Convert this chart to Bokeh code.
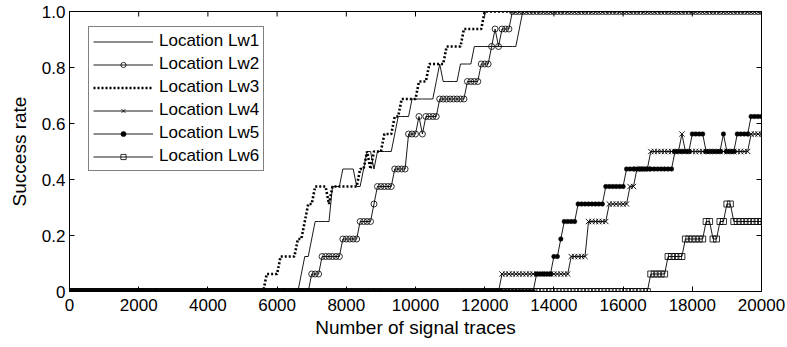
import numpy as np
from bokeh.plotting import figure
from bokeh.models import Range1d, FixedTicker, Legend, LegendItem
from bokeh.embed import file_html
from bokeh.resources import INLINE

# ---------------- data ----------------
N_EXPERIMENTS = 16
traces = list(range(0, 20001, 100))           # number of signal traces (x)

# (trace count where the value changes, successful experiments out of 16)
lw1_changes = [(0, 0), (6700, 1), (6800, 2), (7000, 3), (7100, 4), (7600, 6), (7900, 7),
               (8300, 6), (8500, 7), (8600, 8), (8800, 7), (8900, 8), (9400, 9), (9500, 10),
               (9900, 11), (10600, 12), (10700, 13), (10800, 12), (11300, 13), (11700, 14),
               (13000, 15), (13100, 16)]
lw2_changes = [(0, 0), (7000, 1), (7300, 2), (7900, 3), (8400, 4), (8800, 5), (8900, 6),
               (9400, 7), (9800, 9), (10100, 10), (10200, 9), (10300, 10), (10700, 11),
               (11500, 12), (11900, 13), (12200, 14), (12300, 15), (12400, 14), (12500, 15),
               (12800, 16)]
lw3_changes = [(0, 0), (5700, 1), (6100, 2), (6600, 3), (6800, 4), (6900, 5), (7100, 6),
               (7500, 5), (7600, 6), (8400, 7), (8600, 8), (8700, 7), (8800, 8), (9100, 9),
               (9400, 10), (9600, 11), (10100, 12), (10400, 13), (10900, 14), (11400, 15),
               (12000, 16)]
lw4_changes = [(0, 0), (12500, 1), (14500, 2), (15000, 4), (15600, 5), (16200, 6), (16400, 7),
               (16800, 8), (17700, 9), (17800, 8), (19700, 9)]
lw5_changes = [(0, 0), (13500, 1), (14000, 2), (14200, 3), (14300, 4), (14700, 5), (15500, 6),
               (16100, 7), (17500, 8), (18000, 9), (18400, 8), (18900, 9), (19000, 8),
               (19300, 9), (19700, 10)]
lw6_changes = [(0, 0), (16800, 1), (17300, 2), (17800, 3), (18400, 4), (18600, 3), (18800, 4),
               (19000, 5), (19200, 4)]

labels = ["Location Lw1", "Location Lw2", "Location Lw3",
          "Location Lw4", "Location Lw5", "Location Lw6"]
x_ticks = [0, 2000, 4000, 6000, 8000, 10000, 12000, 14000, 16000, 18000, 20000]
y_ticks = [0, 0.2, 0.4, 0.6, 0.8, 1.0]


def expand(changes):
    """Step series: each trace count takes the last value read at or before it."""
    out = []
    j = 0
    for t in traces:
        while j + 1 < len(changes) and changes[j + 1][0] <= t:
            j += 1
        out.append(changes[j][1] / N_EXPERIMENTS)
    return out


ys = [expand(c) for c in (lw1_changes, lw2_changes, lw3_changes,
                          lw4_changes, lw5_changes, lw6_changes)]

FONT = "Liberation Sans"
FS = "17px"
FS_LABEL = "19px"

p = figure(width=787, height=347, output_backend="svg", toolbar_location=None,
           x_range=Range1d(0, 20000), y_range=Range1d(0, 1),
           min_border_left=69, min_border_right=26, min_border_top=11, min_border_bottom=56)
p.xgrid.visible = False
p.ygrid.visible = False
p.outline_line_color = "black"
p.outline_line_width = 1
p.background_fill_color = "white"
p.border_fill_color = "white"

xax = p.below[0]
yax = p.left[0]
xax.ticker = FixedTicker(ticks=x_ticks)
yax.ticker = FixedTicker(ticks=y_ticks)
yax.major_label_overrides = {0: "0", 1: "1.0"}
xax.axis_label = "Number of signal traces"
yax.axis_label = "Success rate"

for ax in [xax, yax]:
    ax.major_tick_in = 5
    ax.major_tick_out = 0
    ax.minor_tick_in = 0
    ax.minor_tick_out = 0
    ax.axis_line_color = "black"
    ax.major_tick_line_color = "black"
    ax.major_label_text_font = FONT
    ax.major_label_text_font_size = FS
    ax.major_label_text_color = "black"
    ax.axis_label_text_font = FONT
    ax.axis_label_text_font_size = FS_LABEL
    ax.axis_label_text_font_style = "normal"
    ax.axis_label_text_color = "black"

xax.major_label_standoff = 7
xax.axis_label_standoff = 3
yax.major_label_standoff = 4
yax.axis_label_standoff = 9

# inward tick marks on the top and right edges of the box (half clipped by the frame)
p.scatter(x_ticks, [1.0] * len(x_ticks), marker="dash", angle=np.pi / 2, size=10,
          line_color="black", line_width=1)
p.scatter([20000] * len(y_ticks), y_ticks, marker="dash", size=10,
          line_color="black", line_width=1)

LW = 0.9
items = []

r = p.line(traces, ys[0], line_color="black", line_width=LW)
items.append(LegendItem(label=labels[0], renderers=[r]))

r = p.line(traces, ys[1], line_color="black", line_width=LW)
m = p.scatter(traces, ys[1], marker="circle", size=6, fill_color=None,
              line_color="black", line_width=0.8)
items.append(LegendItem(label=labels[1], renderers=[r, m]))

r = p.line(traces, ys[2], line_color="black", line_width=2.6, line_dash="2 2")
items.append(LegendItem(label=labels[2], renderers=[r]))

r = p.line(traces, ys[3], line_color="black", line_width=LW)
m = p.scatter(traces, ys[3], marker="x", size=7.5, line_color="black", line_width=0.9)
items.append(LegendItem(label=labels[3], renderers=[r, m]))

r = p.line(traces, ys[4], line_color="black", line_width=LW)
m = p.scatter(traces, ys[4], marker="circle", size=4.5, fill_color="black",
              line_color="black", line_width=0.5)
items.append(LegendItem(label=labels[4], renderers=[r, m]))

r = p.line(traces, ys[5], line_color="black", line_width=LW)
m = p.scatter(traces, ys[5], marker="square", size=6, fill_color=None,
              line_color="black", line_width=0.8)
items.append(LegendItem(label=labels[5], renderers=[r, m]))

legend = Legend(items=items, location=(19, 120), orientation="vertical",
                padding=4, spacing=3, margin=0,
                glyph_width=60, glyph_height=13, label_height=20, label_standoff=6,
                label_text_font=FONT, label_text_font_size=FS, label_text_color="black",
                border_line_color="black", border_line_width=1,
                background_fill_color="white", background_fill_alpha=1.0)
p.add_layout(legend, "center")

open("out.html", "w").write(file_html(p, INLINE))
